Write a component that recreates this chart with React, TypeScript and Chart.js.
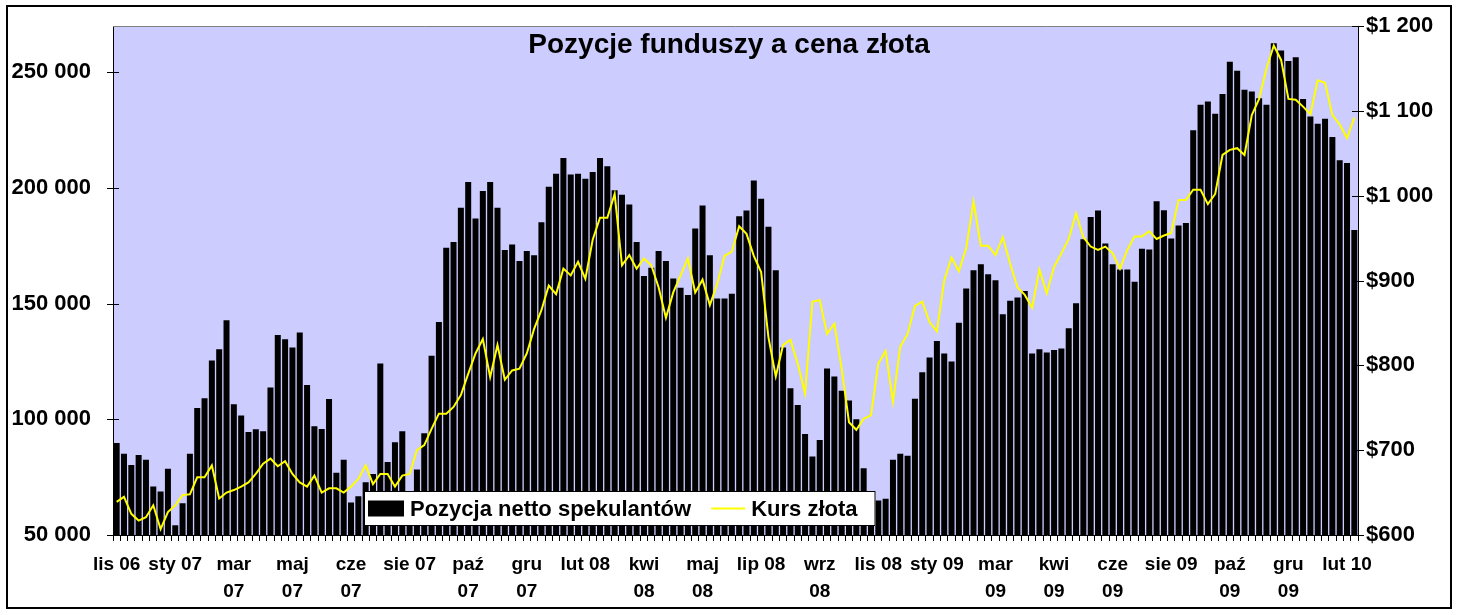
import { useEffect, useRef } from "react"
import { Chart, registerables } from "chart.js"

// Register Chart.js components
Chart.register(...registerables)

const FONT = "'Liberation Sans', Arial, sans-serif"

// weekly data, first report on 2006-11-14
const START_DATE = "2006-11-14"
const LABEL_EVERY = 8

// axis labels shown every 8th week (Excel wraps the wider ones)
const tickLabels: (string | string[])[] = [
  "lis 06", "sty 07", ["mar", "07"], ["maj", "07"], ["cze", "07"], "sie 07",
  ["paź", "07"], ["gru", "07"], "lut 08", ["kwi", "08"], ["maj", "08"], "lip 08",
  ["wrz", "08"], "lis 08", "sty 09", ["mar", "09"], ["kwi", "09"], ["cze", "09"],
  "sie 09", ["paź", "09"], ["gru", "09"], "lut 10",
]

const positionTicks = [50000, 100000, 150000, 200000, 250000]
const priceTicks = [600, 700, 800, 900, 1000, 1100, 1200]

// net speculative position (contracts)
const netPositions = [
  89800, 85100, 80300, 84600, 82500, 71000, 68800, 78600, 54200, 63700, 85100, 104900, 109100, 125400, 130300, 142800, 106500, 101600, 94500, 95700, 94800, 113800,
  136400, 134600, 131000, 137500, 114800, 97000, 95800, 108800, 76900, 82500, 64100, 66700, 72800, 76400, 124100, 81500, 90100, 94800, 67000, 78300, 94000, 127500,
  142100, 174200, 176600, 191400, 202600, 186800, 198700, 202600, 191400, 173200, 175600, 168400, 172700, 170900, 185200, 200500, 206100, 213000, 205800, 206100, 204000, 206900,
  213000, 209400, 199000, 197100, 192800, 176600, 161900, 165500, 172700, 168400, 160900, 156900, 153700, 182500, 192400, 170900, 152200, 152200, 154300, 187800, 190300, 203200,
  195300, 183200, 164400, 131000, 113400, 106200, 93700, 83900, 91100, 122000, 118500, 112400, 108100, 100000, 78900, 62000, 64900, 65700, 82500, 85100, 84300, 108900,
  120300, 126700, 133900, 128500, 125000, 141700, 156500, 164400, 167000, 162700, 160100, 145400, 151200, 152600, 155500, 128500, 130300, 128900, 130000, 130600, 139400, 150200,
  177800, 187500, 190300, 176000, 167000, 164800, 164800, 159500, 173700, 173400, 194300, 190400, 178200, 183800, 184900, 224900, 236000, 237400, 232100, 240600, 254600, 250700,
  242400, 241700, 238800, 236000, 262500, 259400, 254900, 256500, 238500, 230900, 227800, 229900, 222000, 212000, 210800, 181800,
]

// gold price, USD/oz
const goldPrices = [
  639, 645, 625, 617, 621, 635, 607, 627, 635, 647, 648, 668, 668, 682, 643, 650, 653, 657, 662, 672, 684, 690,
  681, 687, 672, 662, 657, 670, 650, 655, 655, 650, 657, 666, 682, 660, 672, 672, 657, 670, 672, 700, 706, 725,
  743, 743, 751, 765, 790, 814, 831, 786, 824, 783, 794, 796, 814, 843, 865, 894, 884, 914, 906, 922, 902, 948,
  974, 974, 1002, 918, 930, 914, 926, 918, 892, 856, 886, 906, 926, 886, 901, 871, 896, 929, 934, 964, 955, 929,
  910, 833, 787, 824, 830, 802, 767, 875, 877, 837, 849, 796, 733, 724, 737, 741, 802, 817, 757, 822, 837, 870,
  875, 851, 840, 900, 927, 911, 938, 993, 941, 941, 930, 951, 920, 892, 883, 868, 913, 885, 916, 932, 949, 979,
  951, 940, 936, 940, 932, 914, 936, 952, 952, 958, 949, 953, 956, 995, 995, 1007, 1007, 990, 1002, 1048, 1054, 1056,
  1048, 1095, 1114, 1150, 1177, 1160, 1114, 1113, 1105, 1096, 1136, 1133, 1095, 1084, 1068, 1092,
]

const weekDates = netPositions.map((_, i) => {
  const d = new Date(START_DATE + "T00:00:00Z")
  d.setUTCDate(d.getUTCDate() + i * 7)
  return d.toISOString().slice(0, 10)
})

function formatThousands(v: number) {
  return Math.round(v / 1000) + " 000"
}

function formatDollars(v: number) {
  return v >= 1000 ? "$1 " + String(v - 1000).padStart(3, "0") : "$" + v
}

// background, title, legend inside the plot and the outer frame
const chartDecor = {
  id: "chartDecor",
  beforeDraw(chart: any) {
    const { ctx, chartArea: a, width, height } = chart
    ctx.save()
    ctx.fillStyle = "#ffffff"
    ctx.fillRect(0, 0, width, height)
    ctx.fillStyle = "#CCCCFF"
    ctx.fillRect(a.left, a.top, a.right - a.left, a.bottom - a.top)
    ctx.restore()
  },
  afterDraw(chart: any) {
    const { ctx, chartArea: a, width } = chart
    ctx.save()

    // grey top edge of the plot area
    ctx.strokeStyle = "#808080"
    ctx.lineWidth = 1
    ctx.beginPath()
    ctx.moveTo(a.left, a.top + 0.5)
    ctx.lineTo(a.right, a.top + 0.5)
    ctx.stroke()

    // value-axis tick marks crossing the axis
    ctx.strokeStyle = "#000"
    for (const id of ["y", "y1"]) {
      const scale = chart.scales[id]
      const x = id === "y" ? a.left : a.right
      scale.ticks.forEach((t: any) => {
        const py = Math.round(scale.getPixelForValue(t.value)) + 0.5
        ctx.beginPath()
        ctx.moveTo(x - 6, py)
        ctx.lineTo(x + 6, py)
        ctx.stroke()
      })
    }

    // title
    ctx.fillStyle = "#000"
    ctx.font = `bold 28px ${FONT}`
    ctx.textAlign = "center"
    ctx.textBaseline = "alphabetic"
    ctx.fillText("Pozycje funduszy a cena złota", width / 2, 53)

    // legend
    const [bars, line] = chart.data.datasets
    ctx.font = `bold 22px ${FONT}`
    const w1 = ctx.measureText(bars.label).width
    const w2 = ctx.measureText(line.label).width
    const left = a.left + 251
    const top = a.bottom - 44
    const h = 35
    const boxW = 4 + 36 + 6 + w1 + 20 + 34 + 6 + w2 + 18
    ctx.fillStyle = "#ffffff"
    ctx.fillRect(left, top, boxW, h)
    ctx.strokeStyle = "#000"
    ctx.lineWidth = 1
    ctx.strokeRect(left + 0.5, top + 0.5, boxW - 1, h - 1)
    const cy = top + h / 2
    let x = left + 4
    ctx.fillStyle = bars.backgroundColor
    ctx.fillRect(x, cy - 8, 36, 16)
    x += 42
    ctx.fillStyle = "#000"
    ctx.textAlign = "left"
    ctx.textBaseline = "middle"
    ctx.fillText(bars.label, x, cy + 1)
    x += w1 + 20
    ctx.strokeStyle = line.borderColor
    ctx.lineWidth = 2
    ctx.beginPath()
    ctx.moveTo(x, cy)
    ctx.lineTo(x + 34, cy)
    ctx.stroke()
    x += 40
    ctx.fillText(line.label, x, cy + 1)

    // outer frame
    ctx.strokeStyle = "#000"
    ctx.lineWidth = 2
    ctx.strokeRect(7, 6, 1444, 602)
    ctx.restore()
  },
}

// fixed axis width, no extra padding for half-height end labels
function fitValueAxis(width: number) {
  return (s: any) => {
    s.width = width
    s.paddingTop = 0
    s.paddingBottom = 0
  }
}

export default function App() {
  const chartRef = useRef<HTMLCanvasElement>(null)

  useEffect(() => {
    if (!chartRef.current) return

    const chart = new Chart(chartRef.current, {
      type: "bar",
      data: {
        labels: weekDates,
        datasets: [
          {
            type: "bar",
            label: "Pozycja netto spekulantów",
            data: netPositions,
            backgroundColor: "#000000",
            borderWidth: 0,
            barPercentage: 0.82,
            categoryPercentage: 1,
            yAxisID: "y",
            order: 2,
          },
          {
            type: "line",
            label: "Kurs złota",
            data: goldPrices,
            borderColor: "#FFFF00",
            borderWidth: 2,
            pointRadius: 0,
            tension: 0,
            yAxisID: "y1",
            order: 1,
          },
        ] as any,
      },
      options: {
        responsive: true,
        maintainAspectRatio: false,
        animation: false,
        layout: { padding: { top: 26, left: 0, right: 0, bottom: 0 } },
        plugins: {
          legend: { display: false },
          title: { display: false },
          tooltip: { enabled: false },
        },
        scales: {
          x: {
            type: "category",
            offset: true,
            grid: {
              display: true,
              drawOnChartArea: false,
              drawTicks: true,
              tickLength: 6,
              color: "#000",
              offset: true,
            },
            border: { color: "#000", width: 1 },
            ticks: {
              autoSkip: false,
              maxRotation: 0,
              minRotation: 0,
              padding: 10,
              color: "#000",
              font: { family: FONT, size: 19, weight: "bold", lineHeight: 1.42 },
              callback: (_v: any, i: number) =>
                i % LABEL_EVERY === 0 ? tickLabels[i / LABEL_EVERY] ?? "" : "",
            },
            afterFit: (s: any) => {
              s.height = 80
            },
          },
          y: {
            position: "left",
            min: 50000,
            max: 270000,
            grid: { display: false, drawTicks: false },
            border: { color: "#000", width: 1 },
            afterBuildTicks: (s: any) => {
              s.ticks = positionTicks.map((value) => ({ value }))
            },
            ticks: {
              padding: 22,
              color: "#000",
              font: { family: FONT, size: 22, weight: "bold" },
              callback: (v: any) => formatThousands(Number(v)),
            },
            afterFit: fitValueAxis(113),
          },
          y1: {
            position: "right",
            min: 600,
            max: 1200,
            grid: { display: false, drawTicks: false },
            border: { color: "#000", width: 1 },
            afterBuildTicks: (s: any) => {
              s.ticks = priceTicks.map((value) => ({ value }))
            },
            ticks: {
              padding: 8,
              color: "#000",
              font: { family: FONT, size: 22, weight: "bold" },
              callback: (v: any) => formatDollars(Number(v)),
            },
            afterFit: fitValueAxis(100),
          },
        },
      } as any,
      plugins: [chartDecor],
    })

    return () => {
      chart.destroy()
    }
  }, [])

  return (
    <div style={{ position: "absolute", left: 0, top: 0, width: 1458, height: 615 }}>
      <canvas ref={chartRef} />
    </div>
  )
}
